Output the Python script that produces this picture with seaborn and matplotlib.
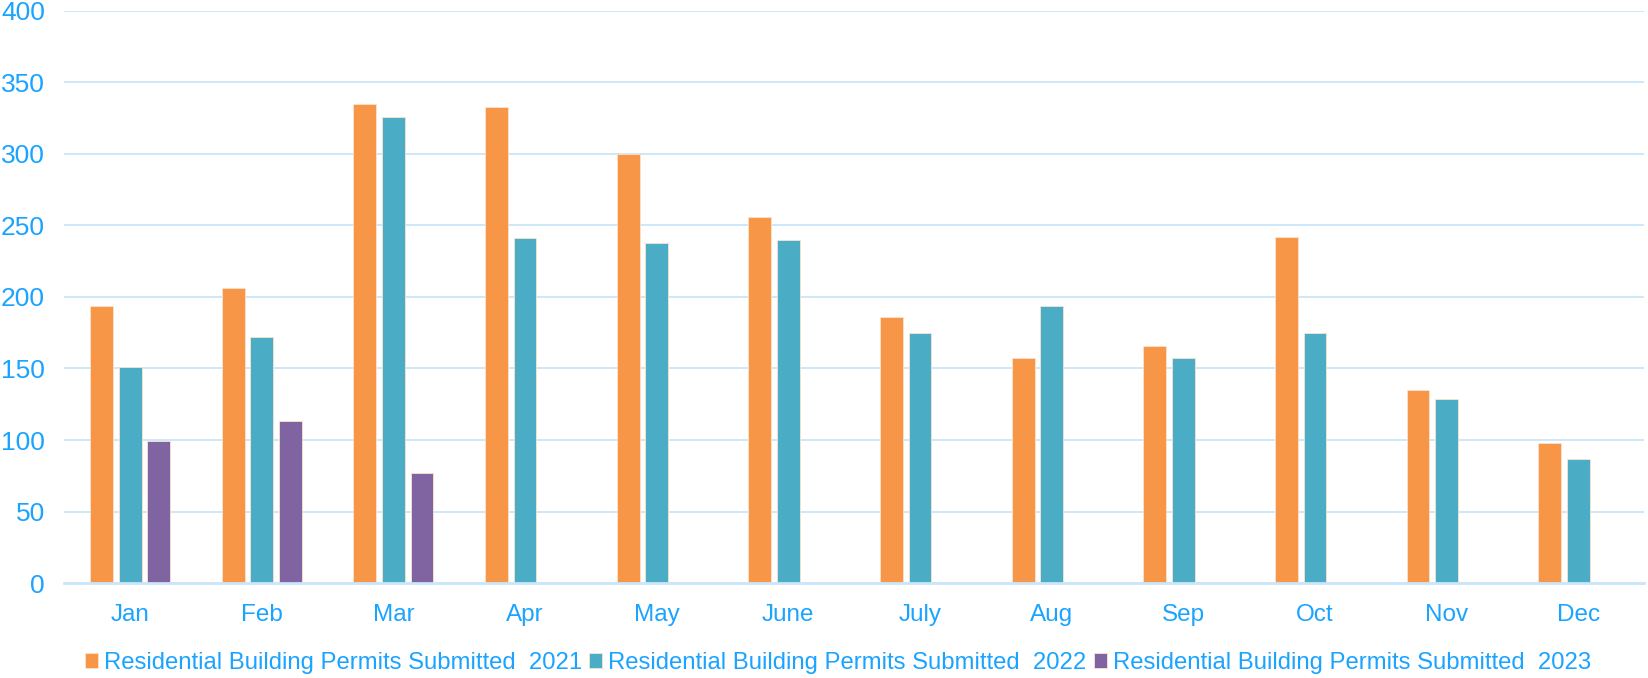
import numpy as np
import pandas as pd
import matplotlib
matplotlib.use("Agg")
import matplotlib.pyplot as plt
import seaborn as sns

months = ["Jan", "Feb", "Mar", "Apr", "May", "June", "July", "Aug", "Sep", "Oct", "Nov", "Dec"]
permits_2021 = [194, 206, 335, 333, 300, 256, 186, 157, 166, 242, 135, 98]
permits_2022 = [151, 172, 326, 241, 238, 240, 175, 194, 157, 175, 129, 87]
permits_2023 = [99, 113, 77, np.nan, np.nan, np.nan, np.nan, np.nan, np.nan, np.nan, np.nan, np.nan]
series_names = ["Residential Building Permits Submitted  2021",
                "Residential Building Permits Submitted  2022",
                "Residential Building Permits Submitted  2023"]

COLORS = ["#F79646", "#4BACC6", "#8064A2"]
TEXT = "#1AA3FF"
GRID = "#C9E6FA"

rows = []
for name, vals in zip(series_names, [permits_2021, permits_2022, permits_2023]):
    for m, v in zip(months, vals):
        rows.append({"month": m, "series": name, "value": v})
df = pd.DataFrame(rows)

sns.set_style("white")
plt.rcParams["font.family"] = ["Liberation Sans", "DejaVu Sans"]

fig = plt.figure(figsize=(16.49, 6.78), dpi=100)
ax = fig.add_axes([0.039, 0.140, 0.958, 0.844])

sns.barplot(data=df, x="month", y="value", hue="series", order=months,
            hue_order=series_names, palette=COLORS, saturation=1,
            width=0.65, gap=0.2, edgecolor="#FBE3D0", linewidth=0.6,
            errorbar=None, ax=ax)

ax.set_ylim(0, 400)
ax.set_xlim(-0.5, len(months) - 0.5)
ax.set_yticks(range(0, 401, 50))
ax.yaxis.grid(True, color=GRID, linewidth=1.3)
ax.set_axisbelow(True)
for s in ["top", "right", "left"]:
    ax.spines[s].set_visible(False)
ax.spines["bottom"].set_color(GRID)
ax.spines["bottom"].set_linewidth(2)
ax.tick_params(axis="x", length=0, labelcolor=TEXT, labelsize=17.5, pad=15)
ax.tick_params(axis="y", length=0, labelcolor=TEXT, labelsize=19, pad=14)
ax.set_xlabel("")
ax.set_ylabel("")

handles, labels = ax.get_legend_handles_labels()
ax.legend(handles, labels, loc="center", bbox_to_anchor=(0.508, 0.022),
          bbox_transform=fig.transFigure, ncol=3, frameon=False,
          fontsize=17.2, labelcolor=TEXT, handlelength=0.55, handleheight=0.6,
          handletextpad=0.25, columnspacing=0.3)

fig.savefig("out.png", dpi=100)
